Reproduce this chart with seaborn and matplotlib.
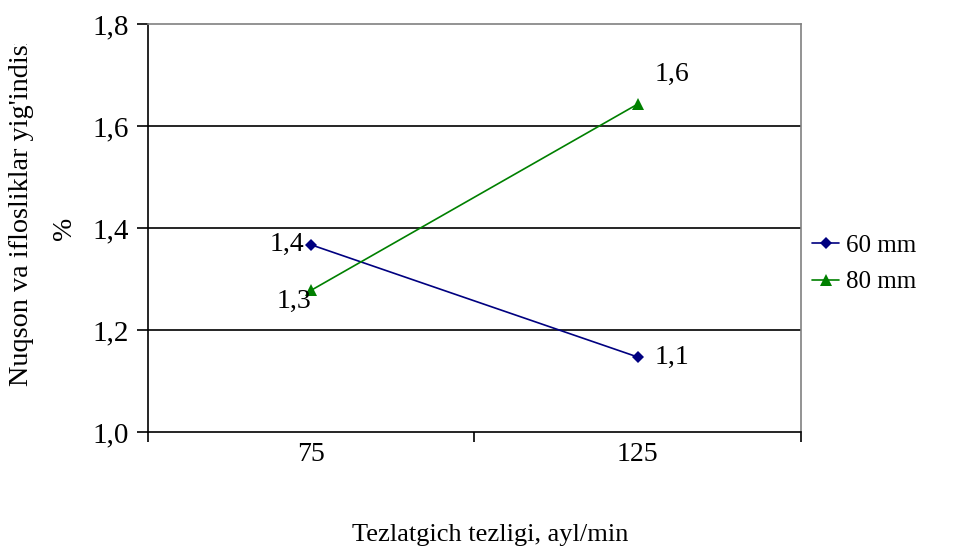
import matplotlib
matplotlib.use("Agg")
import matplotlib.pyplot as plt
import matplotlib.transforms as mtrans
from matplotlib.lines import Line2D
import seaborn as sns
import pandas as pd

speeds = ["75", "125"]
series_names = ["60 mm", "80 mm"]
vals_60 = [1.367, 1.147]
vals_80 = [1.278, 1.643]
label_60 = ["1,4", "1,1"]
label_80 = ["1,3", "1,6"]
yticks = [1.0, 1.2, 1.4, 1.6, 1.8]
ytick_labels = ["1,0", "1,2", "1,4", "1,6", "1,8"]

sns.set_theme(style="white")
plt.rcParams['font.family'] = ['Liberation Serif', 'DejaVu Serif']
plt.rcParams['text.color'] = 'black'
plt.rcParams['axes.labelcolor'] = 'black'
plt.rcParams['xtick.color'] = 'black'
plt.rcParams['ytick.color'] = 'black'
FS = 20

df = pd.DataFrame({
    "speed": speeds * 2,
    "val": vals_60 + vals_80,
    "series": [series_names[0]] * 2 + [series_names[1]] * 2,
})

fig = plt.figure(figsize=(9.79, 5.48), dpi=100)
ax = fig.add_axes([148/979, 1 - 432/548, (801-148)/979, (432-24)/548])

palette = {"60 mm": "#000080", "80 mm": "#008000"}
sns.lineplot(data=df, x="speed", y="val", hue="series", style="series",
             markers={"60 mm": "D", "80 mm": "^"}, dashes=False,
             palette=palette, ax=ax, linewidth=1.2, markeredgewidth=0,
             legend=False, sort=False)
for line, ms in zip(ax.lines, [6, 8]):
    line.set_markersize(ms)

ax.set_xlim(-0.5, 1.5)
ax.set_ylim(1.0, 1.8)
ax.set_yticks(yticks)
ax.set_yticklabels(ytick_labels, fontsize=21)
ax.set_xticks([0, 1])
ax.set_xticklabels(speeds, fontsize=FS)
ax.set_xticks([-0.5, 0.5, 1.5], minor=True)
ax.tick_params(axis="x", which="major", length=0, pad=7, colors="black")
ax.tick_params(axis="x", which="minor", length=7, width=1.2, color="black", direction="out", bottom=True)
ax.tick_params(axis="y", length=8, width=1.2, color="black", direction="out", left=True, pad=6, colors="black")

for y in [1.2, 1.4, 1.6]:
    ax.axhline(y, color="black", linewidth=1.2, zorder=0)

for side in ["left", "bottom"]:
    ax.spines[side].set_color("black")
    ax.spines[side].set_linewidth(1.2)
for side in ["right", "top"]:
    ax.spines[side].set_color("#808080")
    ax.spines[side].set_linewidth(1.2)
    ax.spines[side].set_visible(True)

ax.set_xlabel("")
ax.set_ylabel("")
fig.text(490/979, 1 - 535/548, "Tezlatgich tezligi, ayl/min", ha="center", va="center", fontsize=19)

# data labels (offsets in points)
offs_60 = [(-5, 0, "right", "center"), (12, 0, "left", "center")]
offs_80 = [(0, -8, "right", "center"), (12, 21, "left", "center")]
for i, (v, t) in enumerate(zip(vals_60, label_60)):
    dx, dy, ha, va = offs_60[i]
    ax.annotate(t, (i, v), xytext=(dx, dy), textcoords="offset points",
                ha=ha, va=va, fontsize=FS)
for i, (v, t) in enumerate(zip(vals_80, label_80)):
    dx, dy, ha, va = offs_80[i]
    ax.annotate(t, (i, v), xytext=(dx, dy), textcoords="offset points",
                ha=ha, va=va, fontsize=FS)

# y label (clipped at top like reference)
t1 = fig.text(22/979, 1 - 386/548, "Nuqson va iflosliklar yig'indisi", rotation=90,
              ha="center", va="bottom", fontsize=20.3)
t1.set_clip_box(mtrans.TransformedBbox(mtrans.Bbox.from_extents(0, 0, 1, 1 - 44/548), fig.transFigure))
t1.set_clip_on(True)
fig.text(65/979, 1 - 228/548, "%", rotation=90, ha="center", va="center", fontsize=FS)

# legend
handles = [Line2D([], [], color=palette["60 mm"], marker="D", markersize=6, markeredgewidth=0, linewidth=1.2),
           Line2D([], [], color=palette["80 mm"], marker="^", markersize=8, markeredgewidth=0, linewidth=1.2)]
fig.legend(handles, series_names, loc="center left", bbox_to_anchor=(812/979, 1 - 264/548),
           frameon=False, fontsize=18, handlelength=1.1, handletextpad=0.25, labelspacing=0.55,
           borderaxespad=0, borderpad=0)

fig.savefig("out.png", dpi=100)
